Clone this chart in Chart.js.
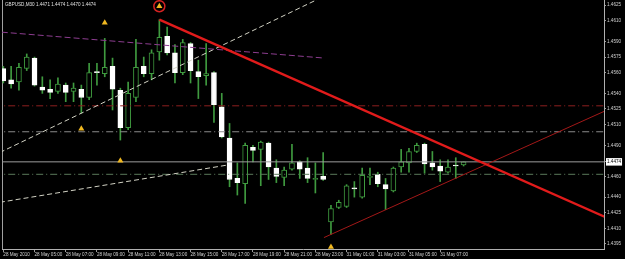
<!DOCTYPE html>
<html>
<head>
<meta charset="utf-8">
<script src="https://cdn.jsdelivr.net/npm/chart.js@4.4.0/dist/chart.umd.min.js"></script>
<style>
  html, body { margin: 0; padding: 0; background: #000; }
  canvas { display: block; }
</style>
</head>
<body>
<canvas id="chart" width="625" height="259"></canvas>
<script>
const symbolTitle = 'GBPUSD,M30 1.4471 1.4474 1.4470 1.4474';

// M30 bars from 28 May 03:00 to 31 May 08:30
const opens = [
  1.4564, 1.4553, 1.4551, 1.4564, 1.4574, 1.4546, 1.4544, 1.4542, 1.4548, 1.4542,
  1.4544, 1.4536, 1.4561, 1.4559, 1.4566, 1.4543, 1.4507, 1.4536, 1.4566, 1.4559,
  1.4580, 1.4595, 1.4579, 1.4560, 1.4588, 1.4561, 1.4557, 1.4560, 1.4527, 1.4497,
  1.4458, 1.4453, 1.4488, 1.4486, 1.4492, 1.4468, 1.4459, 1.4467, 1.4474, 1.4468,
  1.4457, 1.4460, 1.4416, 1.4430, 1.4431, 1.4449, 1.4440, 1.4459, 1.4462, 1.4452,
  1.4446, 1.4469, 1.4473, 1.4484, 1.4491, 1.4473, 1.4470, 1.4464, 1.4471, 1.4471
];
const highs = [
  1.4566, 1.4566, 1.4569, 1.4578, 1.4575, 1.4556, 1.4553, 1.4555, 1.4550, 1.4550,
  1.4548, 1.4569, 1.4569, 1.4593, 1.4574, 1.4545, 1.4551, 1.4592, 1.4575, 1.4582,
  1.4611, 1.4604, 1.4587, 1.4592, 1.4589, 1.4572, 1.4588, 1.4561, 1.4540, 1.4511,
  1.4473, 1.4492, 1.4490, 1.4494, 1.4493, 1.4476, 1.4469, 1.4491, 1.4475, 1.4478,
  1.4473, 1.4483, 1.4432, 1.4437, 1.4452, 1.4455, 1.4468, 1.4468, 1.4464, 1.4458,
  1.4469, 1.4486, 1.4487, 1.4492, 1.4492, 1.4484, 1.4476, 1.4476, 1.4478, 1.4474
];
const lows = [
  1.4550, 1.4545, 1.4543, 1.4562, 1.4547, 1.4540, 1.4535, 1.4540, 1.4532, 1.4532,
  1.4521, 1.4534, 1.4548, 1.4556, 1.4524, 1.4495, 1.4505, 1.4532, 1.4556, 1.4553,
  1.4572, 1.4577, 1.4550, 1.4558, 1.4550, 1.4535, 1.4548, 1.4512, 1.4497, 1.4450,
  1.4442, 1.4434, 1.4474, 1.4451, 1.4457, 1.4454, 1.4451, 1.4466, 1.4458, 1.4454,
  1.4444, 1.4456, 1.4404, 1.4429, 1.4430, 1.4440, 1.4439, 1.4452, 1.4450, 1.4428,
  1.4445, 1.4464, 1.4464, 1.4483, 1.4463, 1.4466, 1.4455, 1.4463, 1.4458, 1.4470
];
const closes = [
  1.4552, 1.4549, 1.4565, 1.4575, 1.4548, 1.4543, 1.4541, 1.4549, 1.4541, 1.4545,
  1.4536, 1.4560, 1.4560, 1.4565, 1.4544, 1.4507, 1.4540, 1.4565, 1.4559, 1.4579,
  1.4594, 1.4579, 1.4560, 1.4589, 1.4562, 1.4556, 1.4559, 1.4529, 1.4498, 1.4457,
  1.4454, 1.4490, 1.4485, 1.4493, 1.4469, 1.4460, 1.4466, 1.4473, 1.4467, 1.4458,
  1.4458, 1.4457, 1.4429, 1.4435, 1.4451, 1.4448, 1.4461, 1.4460, 1.4453, 1.4448,
  1.4468, 1.4474, 1.4484, 1.4490, 1.4472, 1.4469, 1.4465, 1.4469, 1.4470, 1.4474
];

const tickBars = [0, 4, 8, 12, 16, 20, 24, 28, 32, 36, 40, 44, 48, 52, 56];
const timeLabels = [
  '28 May 2010', '28 May 05:00', '28 May 07:00', '28 May 09:00', '28 May 11:00',
  '28 May 13:00', '28 May 15:00', '28 May 17:00', '28 May 19:00', '28 May 21:00',
  '28 May 23:00', '31 May 01:00', '31 May 03:00', '31 May 05:00', '31 May 07:00'
];
const priceTicks = [1.4625, 1.4610, 1.4590, 1.4575, 1.4560, 1.4540, 1.4525, 1.4510,
  1.4490, 1.4474, 1.4460, 1.4440, 1.4425, 1.4410, 1.4395];
const bidPrice = 1.4474;

// drawn objects: [bar, price] end points
const redTrend = [[20, 1.4611], [78, 1.4418]];
const supportTrend = [[41.1, 1.4401], [78, 1.4526]];
const purpleLine = [[-0.2, 1.4599], [41.2, 1.4574]];
const dashLineA = [[-0.45, 1.4483], [42.6, 1.4639]];
const dashLineB = [[-0.45, 1.4435], [28.8, 1.4471]];
const levelPrices = [1.4528, 1.4503, 1.4462];
const fractalBars = [13, 10, 15, 20, 42];
const fractalPrices = [1.4608, 1.4506, 1.4475, 1.4624, 1.4392];
const stopMark = [20, 1.4624];

const xMin = -0.17, xMax = 77.0;
const yMin = 1.4390, yMax = 1.4630;

const FONT = { family: '"Liberation Sans", Arial, sans-serif', size: 4.6 };
const GREEN = '#3f9a3f';

const pts = arr => arr.map(p => ({ x: p[0], y: p[1] }));

function lineSet(data, color, width, dash) {
  return {
    type: 'line', data: data, borderColor: color, borderWidth: width,
    borderDash: dash || [], pointRadius: 0, fill: false, tension: 0, order: 1
  };
}

const levelColors = ['#8e1f1f', '#8a8a8a', '#5b7a5b'];
const levelSets = levelPrices.map((p, i) =>
  lineSet([{ x: xMin - 1, y: p }, { x: xMax + 1, y: p }], levelColors[i], 1, [7, 3, 1, 3]));

const frame = {
  id: 'frame',
  beforeDraw(chart) {
    const { ctx, chartArea: a } = chart;
    ctx.save();
    ctx.fillStyle = '#000';
    ctx.fillRect(0, 0, chart.width, chart.height);
    ctx.strokeStyle = '#a0a0a0';
    ctx.lineWidth = 1;
    ctx.beginPath();
    ctx.moveTo(a.left + 0.5, a.top);
    ctx.lineTo(a.left + 0.5, a.bottom);
    ctx.stroke();
    ctx.restore();
  },
  afterDraw(chart) {
    const ctx = chart.ctx;
    ctx.save();
    ctx.font = FONT.size + 'px ' + FONT.family;
    ctx.fillStyle = '#e0e0e0';
    ctx.textBaseline = 'top';
    ctx.fillText(symbolTitle, 5, 2);
    ctx.restore();
  }
};

new Chart(document.getElementById('chart'), {
  type: 'bar',
  data: {
    datasets: [
      {
        type: 'line', data: fractalBars.map((b, i) => ({ x: b, y: fractalPrices[i] })),
        showLine: false, pointStyle: 'triangle', pointRadius: 3.5,
        pointBackgroundColor: '#f0b820', pointBorderColor: '#f0b820', pointBorderWidth: 0,
        clip: false, order: 0
      },
      {
        type: 'line', data: [{ x: stopMark[0], y: stopMark[1] }],
        showLine: false, pointStyle: 'circle', pointRadius: 5.5,
        pointBackgroundColor: 'rgba(0,0,0,0)', pointBorderColor: '#d42222', pointBorderWidth: 1.5,
        clip: false, order: 0
      },
      lineSet(pts(redTrend), '#e11b1b', 2.5),
      lineSet(pts(supportTrend), '#a31818', 1),
      lineSet(pts(purpleLine), '#8d3d90', 1, [6, 3]),
      lineSet(pts(dashLineA), '#d2d2c4', 1, [5, 3]),
      lineSet(pts(dashLineB), '#d2d2c4', 1, [5, 3]),
      ...levelSets,
      lineSet([{ x: xMin - 1, y: bidPrice }, { x: xMax + 1, y: bidPrice }], '#9c9c9c', 1),
      {
        data: opens.map((o, i) => ({ x: i, y: [o, closes[i]] })),
        barThickness: 5, grouped: false, borderWidth: 1, borderSkipped: false,
        backgroundColor: c => closes[c.dataIndex] < opens[c.dataIndex] ? '#ffffff' : '#000000',
        borderColor: c => closes[c.dataIndex] < opens[c.dataIndex] ? '#ffffff' : GREEN,
        order: 2
      },
      {
        data: lows.map((l, i) => ({ x: i, y: [l, highs[i]] })),
        barThickness: 1, grouped: false, backgroundColor: GREEN, borderWidth: 0,
        order: 3
      }
    ]
  },
  options: {
    responsive: false,
    animation: false,
    layout: { autoPadding: false, padding: { left: 2, top: 0, right: 0, bottom: 0 } },
    plugins: { legend: { display: false }, tooltip: { enabled: false } },
    scales: {
      x: {
        type: 'linear', min: xMin, max: xMax, offset: false,
        afterBuildTicks: s => { s.ticks = tickBars.map(v => ({ value: v })); },
        afterFit: s => { s.height = 10; s.paddingLeft = 0; s.paddingRight = 0; },
        grid: { offset: false, drawOnChartArea: false, tickLength: 3, color: '#9a9a9a' },
        border: { display: true, color: '#b0b0b0' },
        ticks: {
          autoSkip: false, maxRotation: 0, align: 'start', padding: 0,
          color: '#d0d0d0', font: FONT,
          callback: v => { const k = tickBars.indexOf(v); return k >= 0 ? timeLabels[k] : ''; }
        }
      },
      y: {
        type: 'linear', position: 'right', min: yMin, max: yMax,
        afterBuildTicks: s => { s.ticks = priceTicks.map(v => ({ value: v })); },
        afterFit: s => { s.width = 21; s.paddingTop = 0; s.paddingBottom = 0; },
        grid: { drawOnChartArea: false, tickLength: 2, color: '#9a9a9a' },
        border: { display: true, color: '#b0b0b0' },
        ticks: {
          padding: 1, font: FONT,
          color: c => c.tick.value === bidPrice ? '#000000' : '#d0d0d0',
          showLabelBackdrop: c => c.tick.value === bidPrice,
          backdropColor: '#ffffff',
          backdropPadding: { top: 1, bottom: 1, left: 1, right: 1 },
          callback: v => v.toFixed(4)
        }
      }
    }
  },
  plugins: [frame]
});
</script>
</body>
</html>
